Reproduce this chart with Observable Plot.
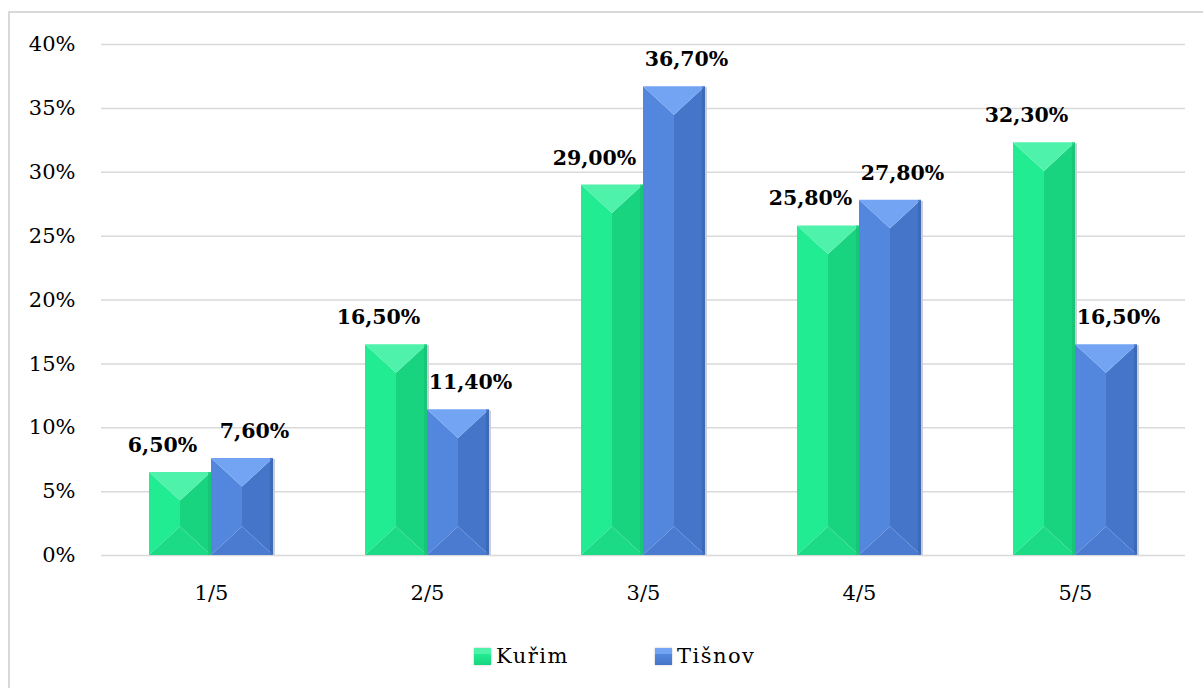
<!DOCTYPE html>
<html>
<head>
<meta charset="utf-8">
<script src="https://cdn.jsdelivr.net/npm/d3@7"></script>
<script src="https://cdn.jsdelivr.net/npm/@observablehq/plot@0.6"></script>
<style>
  html, body { margin: 0; padding: 0; background: #fff; width: 1203px; height: 688px; overflow: hidden; }
  #frame { position: absolute; left: 8px; top: 11px; width: 1230px; height: 720px; border: 2px solid #d9d9d9; box-sizing: border-box; }
  #chart { position: absolute; left: 0; top: 0; }
  #legend { position: absolute; left: 474px; top: 644px; display: flex; align-items: center;
            font-family: "DejaVu Serif", serif; font-size: 21px; color: #000; letter-spacing: 1.5px; }
  .item { display: flex; align-items: center; }
  .item + .item { margin-left: 86px; }
  .sw { width: 17px; height: 17px; margin-right: 5px; box-shadow: 0 0 2px rgba(0,0,0,0.25); }
</style>
</head>
<body>
<div id="frame"></div>
<div id="chart"></div>
<div id="legend"></div>
<script>
// Survey answers by rating, share of respondents per town
const categories = ["1/5", "2/5", "3/5", "4/5", "5/5"];
const series = ["Kuřim", "Tišnov"];
const kurim = [6.5, 16.5, 29.0, 25.8, 32.3];
const tisnov = [7.6, 11.4, 36.7, 27.8, 16.5];
const yTicks = [0, 5, 10, 15, 20, 25, 30, 35, 40];

const kurimRows = categories.map((c, i) => ({cat: c, series: series[0], value: kurim[i]}));
const tisnovRows = categories.map((c, i) => ({cat: c, series: series[1], value: tisnov[i]}));

// Bevel shades for each series
const palette = {
  "Kuřim":  {base: "#1fe58c", top: "#4ef2ab", left: "#22ec92", right: "#19d47f", bottom: "#1cdb86", edge: "#15bd72"},
  "Tišnov": {base: "#4a7dd4", top: "#73a4f4", left: "#5387de", right: "#4575c9", bottom: "#4a7bd0", edge: "#3962ad"}
};

const fmt = v => v.toFixed(2).replace(".", ",") + "%";

// Category bands: the two bars of a group touch, groups are separated by 1.5 bar widths
const width = 1203, marginLeft = 101, marginRight = 18;
const paddingInner = 0.428;
const step = (width - marginLeft - marginRight) / categories.length;
const band = step * (1 - paddingInner);
const half = band / 2;

// Replace each plain bar rect with a bevelled look built from the rect's own geometry
const bevel = p => (index, scales, values, dimensions, context, next) => {
  const g = next(index, scales, values, dimensions, context);
  if (!g) return g;
  const ns = "http://www.w3.org/2000/svg";
  for (const rect of Array.from(g.querySelectorAll("rect"))) {
    const x0 = +rect.getAttribute("x"), y0 = +rect.getAttribute("y");
    const w = +rect.getAttribute("width"), h = +rect.getAttribute("height");
    const x1 = x0 + w, y1 = y0 + h, xm = x0 + w / 2;
    const d = Math.min(w * 0.46, h / 2);
    const parent = rect.parentNode;
    const add = (tag, attrs) => {
      const el = document.createElementNS(ns, tag);
      for (const k in attrs) el.setAttribute(k, attrs[k]);
      parent.insertBefore(el, rect);
    };
    const poly = (pts, fill) => add("polygon", {points: pts.map(q => q.join(",")).join(" "), fill});
    add("rect", {x: x1, y: y0 + 1, width: 2, height: Math.max(0, h - 1), fill: "#c9ced6"});
    poly([[x0, y0], [xm, y0 + d], [xm, y1 - d], [x0, y1]], p.left);
    poly([[x1, y0], [xm, y0 + d], [xm, y1 - d], [x1, y1]], p.right);
    poly([[x0, y1], [x1, y1], [xm, y1 - d]], p.bottom);
    poly([[x0, y0], [x1, y0], [xm, y0 + d]], p.top);
    add("rect", {x: x1 - 3, y: y0, width: 3, height: h, fill: p.edge, opacity: 0.6});
    parent.removeChild(rect);
  }
  return g;
};

const textOpts = {
  x: "cat", y: "value", text: d => fmt(d.value),
  fontWeight: "bold", fontSize: 20.5, fill: "#000", lineAnchor: "middle", dy: -27
};

const plot = Plot.plot({
  width,
  height: 600,
  marginLeft,
  marginRight,
  marginTop: 44,
  marginBottom: 45,
  style: {fontFamily: "DejaVu Serif, serif", fontSize: "21px", color: "#000", background: "transparent", overflow: "visible"},
  x: {domain: categories, paddingInner, paddingOuter: paddingInner / 2, label: null, tickSize: 0, tickPadding: 30},
  y: {domain: [0, 40], ticks: yTicks, tickFormat: d => d + "%", tickSize: 0, tickPadding: 26, label: null},
  marks: [
    Plot.ruleY(yTicks, {stroke: "#d9d9d9", strokeWidth: 1.5}),
    Plot.barY(kurimRows, {x: "cat", y: "value", fill: palette["Kuřim"].base, insetRight: half, render: bevel(palette["Kuřim"])}),
    Plot.barY(tisnovRows, {x: "cat", y: "value", fill: palette["Tišnov"].base, insetLeft: half, render: bevel(palette["Tišnov"])}),
    Plot.text(kurimRows, {...textOpts, dx: -half / 2 - 18}),
    Plot.text(tisnovRows, {...textOpts, dx: half / 2 + 12})
  ]
});
document.getElementById("chart").appendChild(plot);

// Legend below the chart
const legend = document.getElementById("legend");
series.forEach(s => {
  const p = palette[s];
  const item = document.createElement("div");
  item.className = "item";
  const sw = document.createElement("div");
  sw.className = "sw";
  sw.style.background = `linear-gradient(180deg, ${p.top} 0%, ${p.top} 35%, ${p.left} 36%, ${p.right} 100%)`;
  const label = document.createElement("span");
  label.textContent = s;
  item.appendChild(sw);
  item.appendChild(label);
  legend.appendChild(item);
});
</script>
</body>
</html>
